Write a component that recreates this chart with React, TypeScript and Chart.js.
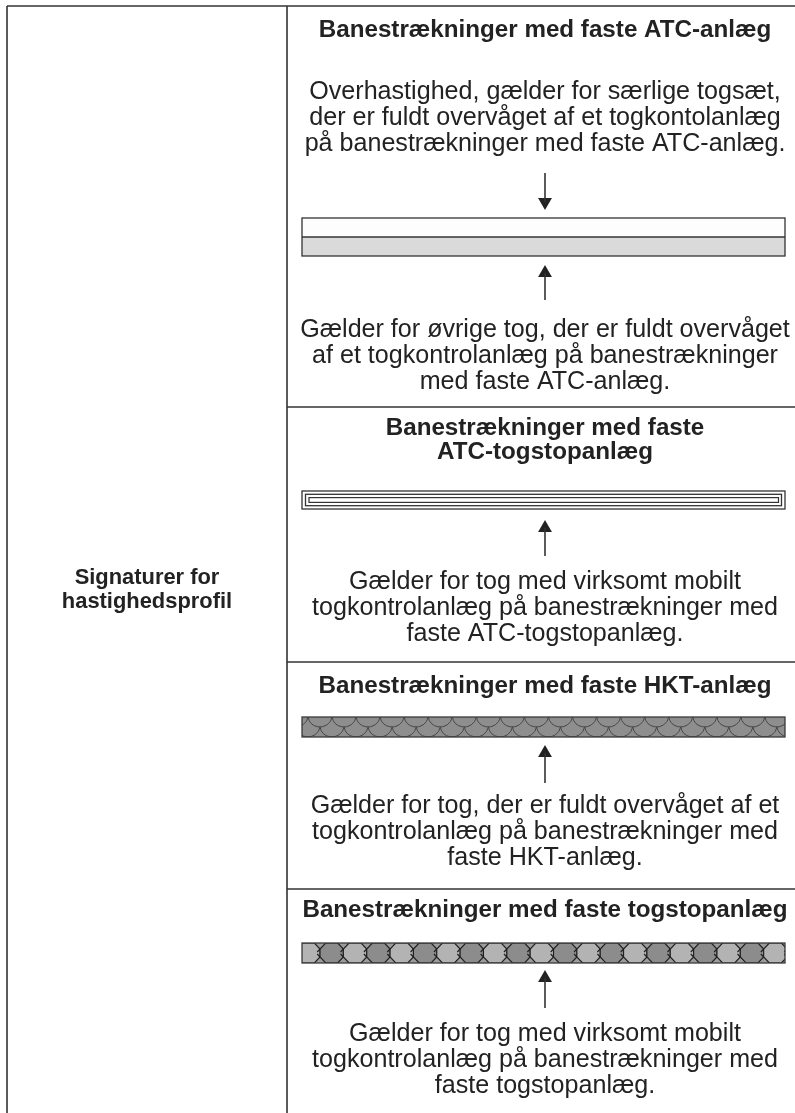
import React, { useEffect, useRef } from "react";
import { Chart, registerables } from "chart.js";
Chart.register(...registerables);

const W = 795;
const H = 1113;

// table geometry (page coordinates, mapped by the chart's own x / y scales)
const tableLeft = 7;
const tableTop = 6;
const tableRight = 795;
const tableBottom = 1113;
const colDivider = 287;
const rowBottoms = [407, 662, 889];

// left column label
const labelLines = ["Signaturer for", "hastighedsprofil"];
const labelY = [578, 602];
const labelX = 147;

// right column texts
const textX = 545;
const headerLines = [
  ["Banestrækninger med faste ATC-anlæg"],
  ["Banestrækninger med faste", "ATC-togstopanlæg"],
  ["Banestrækninger med faste HKT-anlæg"],
  ["Banestrækninger med faste togstopanlæg"],
];
const headerY = [[30], [428, 452], [686], [910]];
const upperLines = [
  [
    "Overhastighed, gælder for særlige togsæt,",
    "der er fuldt overvåget af et togkontolanlæg",
    "på banestrækninger med faste ATC-anlæg.",
  ],
  [],
  [],
  [],
];
const upperY = [[92, 118, 144], [], [], []];
const lowerLines = [
  [
    "Gælder for øvrige tog, der er fuldt overvåget",
    "af et togkontrolanlæg på banestrækninger",
    "med faste ATC-anlæg.",
  ],
  [
    "Gælder for tog med virksomt mobilt",
    "togkontrolanlæg på banestrækninger med",
    "faste ATC-togstopanlæg.",
  ],
  [
    "Gælder for tog, der er fuldt overvåget af et",
    "togkontrolanlæg på banestrækninger med",
    "faste HKT-anlæg.",
  ],
  [
    "Gælder for tog med virksomt mobilt",
    "togkontrolanlæg på banestrækninger med",
    "faste togstopanlæg.",
  ],
];
const lowerY = [
  [330, 356, 382],
  [582, 608, 634],
  [806, 832, 858],
  [1034, 1060, 1086],
];

// signature bars
const barKinds = ["atc", "atcTogstop", "hkt", "togstop"];
const barTop = [218, 491, 717, 943];
const barBottom = [256, 509, 737, 963];
const barLeft = 302;
const barRight = 785;

// arrows
const arrowDownStart = [173];
const arrowDownTip = [210];
const arrowUpTip = [265, 520, 745, 970];
const arrowUpStart = [300, 556, 783, 1008];
const arrowHeadRadius = 8;

const INK = "#222222";
const LINE = "#333333";
const FONT = '"Liberation Sans", Arial, sans-serif';
const REG_SIZE = 25.1;
const BOLD_SIZE = 24.2;
const LABEL_SIZE = 21.9;

type Seg = [number, number, number, number];

function lineDataset(seg: Seg, width: number) {
  return {
    data: [
      { x: seg[0], y: seg[1] },
      { x: seg[2], y: seg[3] },
    ],
    showLine: true,
    borderColor: LINE,
    backgroundColor: LINE,
    borderWidth: width,
    pointRadius: 0,
    clip: false as any,
  };
}

const drawPlugin = {
  id: "signatureTable",
  afterDatasetsDraw(chart: any) {
    const { ctx } = chart;
    const xs = chart.scales.x;
    const ys = chart.scales.y;
    const px = (v: number) => xs.getPixelForValue(v);
    const py = (v: number) => ys.getPixelForValue(v);

    ctx.save();
    ctx.fillStyle = INK;
    ctx.textAlign = "center";
    ctx.textBaseline = "middle";

    ctx.font = `bold ${LABEL_SIZE}px ${FONT}`;
    labelLines.forEach((t, i) => ctx.fillText(t, px(labelX), py(labelY[i])));

    headerLines.forEach((lines, r) => {
      ctx.font = `bold ${BOLD_SIZE}px ${FONT}`;
      lines.forEach((t, i) => ctx.fillText(t, px(textX), py(headerY[r][i])));
      ctx.font = `${REG_SIZE}px ${FONT}`;
      upperLines[r].forEach((t, i) => ctx.fillText(t, px(textX), py(upperY[r][i])));
      lowerLines[r].forEach((t, i) => ctx.fillText(t, px(textX), py(lowerY[r][i])));
    });
    ctx.restore();

    barKinds.forEach((kind, r) => {
      const x0 = px(barLeft);
      const x1 = px(barRight);
      const y0 = py(barTop[r]);
      const y1 = py(barBottom[r]);
      const w = x1 - x0;
      const h = y1 - y0;
      ctx.save();
      if (kind === "atc") {
        const mid = (y0 + y1) / 2;
        ctx.fillStyle = "#fdfdfd";
        ctx.fillRect(x0, y0, w, mid - y0);
        ctx.fillStyle = "#d9dad9";
        ctx.fillRect(x0, mid, w, y1 - mid);
        ctx.strokeStyle = LINE;
        ctx.lineWidth = 1.3;
        ctx.strokeRect(x0, y0, w, h);
        ctx.beginPath();
        ctx.moveTo(x0, mid);
        ctx.lineTo(x1, mid);
        ctx.stroke();
      } else if (kind === "atcTogstop") {
        ctx.fillStyle = "#ffffff";
        ctx.fillRect(x0, y0, w, h);
        ctx.strokeStyle = LINE;
        ctx.lineWidth = 1.3;
        ctx.strokeRect(x0, y0, w, h);
        ctx.strokeRect(x0 + 3.5, y0 + 3.3, w - 7, h - 6.6);
        ctx.lineWidth = 1.2;
        ctx.strokeRect(x0 + 7, y0 + 6.6, w - 13.5, h - 13.2);
      } else if (kind === "hkt") {
        ctx.fillStyle = "#8e8e8e";
        ctx.fillRect(x0, y0, w, h);
        ctx.beginPath();
        ctx.rect(x0, y0, w, h);
        ctx.clip();
        const sw = 24.05;
        const sag = h / 2;
        const R = (sw * sw / 4 + sag * sag) / (2 * sag);
        ctx.strokeStyle = "#474747";
        ctx.lineWidth = 1;
        for (let row = 0; row < 3; row++) {
          const yPeak = y0 + row * sag;
          const off = (row % 2) * sw / 2;
          for (let xa = px(308) - 2 * sw + off; xa < x1 + sw; xa += sw) {
            const cx = xa + sw / 2;
            const cy = yPeak + sag - R;
            const a0 = Math.atan2(yPeak - cy, sw / 2);
            ctx.beginPath();
            ctx.arc(cx, cy, R, a0, Math.PI - a0);
            ctx.stroke();
          }
        }
        ctx.restore();
        ctx.save();
        ctx.strokeStyle = "#3a3a3a";
        ctx.lineWidth = 1.3;
        ctx.strokeRect(x0, y0, w, h);
      } else if (kind === "togstop") {
        ctx.fillStyle = "#9c9c9c";
        ctx.fillRect(x0, y0, w, h);
        ctx.beginPath();
        ctx.rect(x0, y0, w, h);
        ctx.clip();
        const step = 23.35;
        const half = step / 2;
        const cut = 6;
        let k = 0;
        for (let c = px(308.35); c < x1 + step; c += step, k++) {
          ctx.beginPath();
          ctx.moveTo(c - cut, y0);
          ctx.lineTo(c + cut, y0);
          ctx.lineTo(c + half, y0 + cut);
          ctx.lineTo(c + half, y1 - cut);
          ctx.lineTo(c + cut, y1);
          ctx.lineTo(c - cut, y1);
          ctx.lineTo(c - half, y1 - cut);
          ctx.lineTo(c - half, y0 + cut);
          ctx.closePath();
          ctx.fillStyle = k % 2 === 1 ? "#8c8c8c" : "#b3b3b3";
          ctx.fill();
          ctx.strokeStyle = "#1f1f1f";
          ctx.lineWidth = 1.1;
          ctx.stroke();
          const ext = 0.5;
          const dx = (half - cut) * ext;
          const dy = cut * ext;
          ctx.beginPath();
          ctx.moveTo(c + half, y0 + cut);
          ctx.lineTo(c + half + dx, y0 + cut + dy);
          ctx.moveTo(c + half, y1 - cut);
          ctx.lineTo(c + half + dx, y1 - cut - dy);
          ctx.moveTo(c - half, y0 + cut);
          ctx.lineTo(c - half - dx, y0 + cut + dy);
          ctx.moveTo(c - half, y1 - cut);
          ctx.lineTo(c - half - dx, y1 - cut - dy);
          ctx.stroke();
        }
        ctx.restore();
        ctx.save();
        ctx.strokeStyle = "#3a3a3a";
        ctx.lineWidth = 1.3;
        ctx.strokeRect(x0, y0, w, h);
      }
      ctx.restore();
    });
  },
};

export default function App() {
  const ref = useRef<HTMLCanvasElement | null>(null);
  useEffect(() => {
    const canvas = ref.current;
    if (!canvas) return;

    const gridSegs: Seg[] = [
      [tableLeft, tableTop, tableRight, tableTop],
      [tableLeft, tableTop, tableLeft, tableBottom],
      [colDivider, tableTop, colDivider, tableBottom],
      ...rowBottoms.map((y) => [colDivider, y, tableRight, y] as Seg),
    ];
    const shaftSegs: Seg[] = [
      ...arrowDownStart.map((s, i) => [textX, s, textX, arrowDownTip[i] - arrowHeadRadius] as Seg),
      ...arrowUpStart.map((s, i) => [textX, s, textX, arrowUpTip[i] + arrowHeadRadius] as Seg),
    ];

    const datasets: any[] = [
      ...gridSegs.map((s) => lineDataset(s, 1.6)),
      ...shaftSegs.map((s) => lineDataset(s, 1.6)),
      {
        data: arrowUpTip.map((t) => ({ x: textX, y: t + arrowHeadRadius })),
        pointStyle: "triangle",
        pointRotation: 0,
        pointRadius: arrowHeadRadius,
        backgroundColor: INK,
        borderColor: INK,
        borderWidth: 0,
        showLine: false,
        clip: false,
      },
      {
        data: arrowDownTip.map((t) => ({ x: textX, y: t - arrowHeadRadius })),
        pointStyle: "triangle",
        pointRotation: 180,
        pointRadius: arrowHeadRadius,
        backgroundColor: INK,
        borderColor: INK,
        borderWidth: 0,
        showLine: false,
        clip: false,
      },
    ];

    const chart = new Chart(canvas, {
      type: "scatter",
      data: { datasets },
      options: {
        animation: false,
        responsive: false,
        devicePixelRatio: 1,
        layout: { padding: 0, autoPadding: false },
        events: [],
        plugins: { legend: { display: false }, tooltip: { enabled: false } },
        scales: {
          x: { type: "linear", min: 0, max: W, display: false },
          y: { type: "linear", min: 0, max: H, reverse: true, display: false },
        },
      },
      plugins: [drawPlugin],
    });
    return () => chart.destroy();
  }, []);

  return (
    <div style={{ position: "absolute", left: 0, top: 0, width: W, height: H, background: "#ffffff" }}>
      <canvas ref={ref} width={W} height={H} style={{ display: "block", width: W, height: H }} />
    </div>
  );
}
